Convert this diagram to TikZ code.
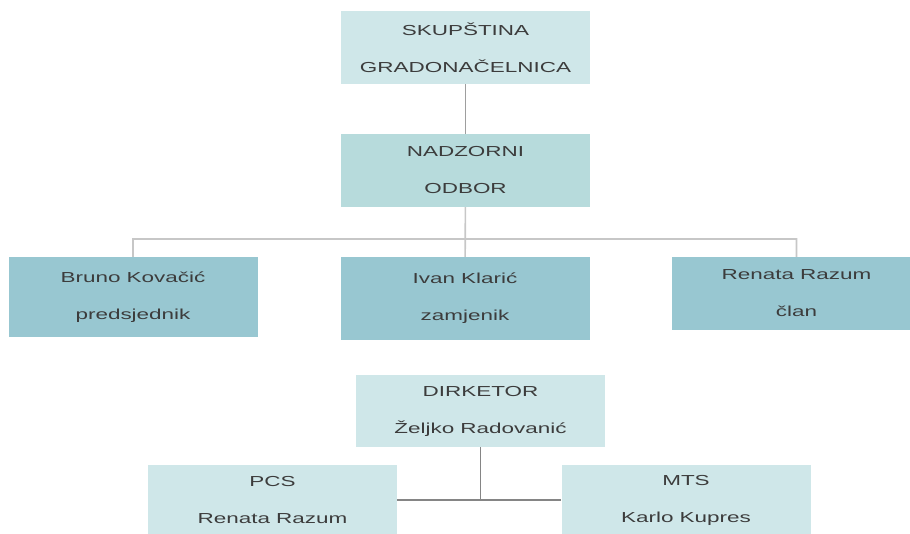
\documentclass[tikz,border=0pt]{standalone}
\usepackage{fontspec}
\setmainfont{Liberation Sans}[FakeStretch=1.55]
\usepackage{tikz}
\usetikzlibrary{positioning}
\definecolor{palebox}{HTML}{CFE7E9}
\definecolor{midbox}{HTML}{B7DBDC}
\definecolor{darkbox}{HTML}{98C7D1}
\definecolor{boxtext}{HTML}{3C3C3C}

\begin{document}
\begin{tikzpicture}[x=1pt, y=-1pt,
	box/.style={rectangle, align=center, inner sep=2pt, text=boxtext,
		font=\fontsize{14.5}{37}\selectfont, minimum width=249pt, minimum height=73pt},
	link/.style={line width=1.6pt, draw=#1}
]
\useasboundingbox (0,0) rectangle (910,533);

\node[box, fill=palebox] (skup) at (465.5,47.5) {SKUPŠTINA\\GRADONAČELNICA};
\node[box, fill=midbox] (odbor) at (465.5,170.5) {NADZORNI\\ODBOR};
\node[box, fill=darkbox, minimum height=80pt] (bruno) at (133,297) {Bruno Kovačić\\predsjednik};
\node[box, fill=darkbox, minimum height=83pt] (ivan) at (465,298.5) {Ivan Klarić\\zamjenik};
\node[box, fill=darkbox] (renata) at (796.5,293.5) {Renata Razum\\član};
\node[box, fill=palebox, minimum height=72pt] (dir) at (480.5,411) {DIRKETOR\\Željko Radovanić};
\node[box, fill=palebox, minimum height=70pt] (pcs) at (272.5,500) {PCS\\Renata Razum};
\node[box, fill=palebox, minimum height=70pt] (mts) at (686,500) {MTS\\Karlo Kupres};

\coordinate (bus) at (465.5,239);

\draw[link=black!38] (skup) -- (odbor);
\draw[link=black!22]
	(odbor) -- (ivan)
	(bruno.north) |- (bus) -| (renata.north)
;
\draw[link=black!48]
	(pcs.east) -- (mts.west)
	(dir.south) -- (dir.south |- pcs.east)
;
\end{tikzpicture}
\end{document}
